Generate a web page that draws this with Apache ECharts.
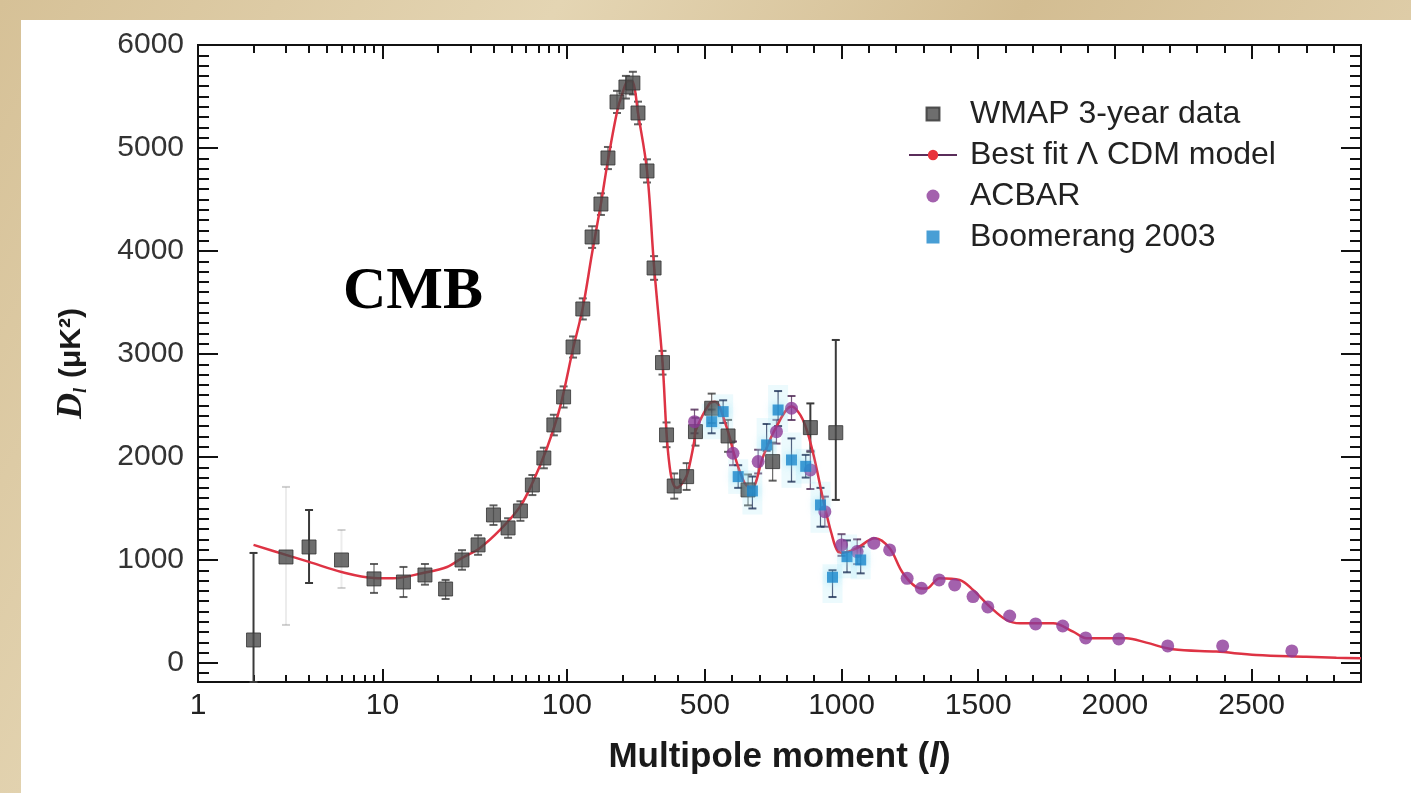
<!doctype html>
<html>
<head>
<meta charset="utf-8">
<title>CMB power spectrum - WMAP 3-year</title>
<style>
    html, body { margin: 0; padding: 0; width: 1411px; height: 793px; overflow: hidden; }
    body { background: linear-gradient(120deg, #d6c197 0%, #e4d5b3 30%, #d3bd92 55%, #e0cfab 80%, #d8c49c 100%); }
    #card { position: absolute; left: 21px; top: 20px; right: 0; bottom: 0; background: #fff; }
    #main { position: absolute; left: 0; top: 0; width: 1411px; height: 793px; }
</style>
</head>
<body>
<div id="card"></div>
<div id="main"></div>
<script src="https://cdn.jsdelivr.net/npm/echarts@6/dist/echarts.min.js"></script>
<script>
// ---- data (multipole l, D_l in uK^2) ----
var wmapL = [2, 3, 4, 6, 9, 13, 17, 22, 27, 33, 40, 48, 56, 65, 75, 85, 96, 108, 122, 137,
    153, 167, 187, 209, 228, 243, 272, 297, 330, 347, 382, 446, 498, 525, 585, 658, 748, 886, 979];
var wmapD = [223, 1029, 1126, 1000, 816, 786, 854, 718, 1000, 1146, 1437, 1311, 1476, 1728, 1990, 2311, 2583, 3068, 3437, 4136,
    4456, 4903, 5447, 5592, 5631, 5340, 4777, 3835, 2916, 2214, 1718, 1809, 2246, 2473, 2204, 1680, 1955, 2285, 2236];
var wmapErrLo = [-185, 369, 776, 728, 680, 640, 760, 621, 905, 1050, 1340, 1215, 1380, 1630, 1890, 2210, 2480, 2965, 3335, 4030,
    4350, 4795, 5340, 5480, 5520, 5230, 4665, 3720, 2800, 2095, 1595, 1680, 2110, 2330, 2050, 1530, 1770, 2050, 1583];
var wmapErrHi = [1068, 1709, 1485, 1291, 961, 932, 961, 806, 1095, 1240, 1530, 1405, 1570, 1825, 2090, 2410, 2685, 3170, 3540, 4240,
    4560, 5010, 5555, 5700, 5740, 5450, 4890, 3950, 3030, 2335, 1840, 1940, 2380, 2615, 2360, 1830, 2140, 2520, 3136];
var faintWmapL = [3, 6];

var modelL = [2, 3, 4, 6, 9, 11.4, 16.6, 22.4, 27, 33.8, 43.4, 55.6, 65.4, 78, 91.6, 108, 122, 137, 153, 167,
    187, 200, 215, 228, 243, 272, 297, 330, 347, 360, 375, 395, 420, 446, 470, 490, 500, 518, 537, 579,
    610, 646, 671, 713, 762, 817, 859, 896, 933, 963, 987, 1006, 1055, 1122, 1176, 1225, 1286, 1310, 1359, 1432,
    1481, 1542, 1603, 1652, 1774, 1847, 1896, 2042, 2115, 2212, 2371, 2517, 2700, 2810, 2900];
var modelD = [1146, 1049, 981, 883, 825, 822, 874, 932, 1019, 1117, 1291, 1515, 1757, 2087, 2476, 3050, 3450, 3980, 4460, 4880,
    5350, 5530, 5650, 5640, 5340, 4780, 3850, 2920, 2230, 1920, 1750, 1700, 1740, 1815, 1980, 2150, 2260, 2521, 2537, 2294,
    2003, 1745, 1696, 2003, 2294, 2489, 2359, 2036, 1583, 1259, 1081, 1071, 1113, 1210, 1113, 871, 725, 722, 822, 806,
    709, 547, 417, 385, 385, 304, 240, 240, 197, 133, 110, 78, 61, 51, 45];

var acbarL = [492, 603, 695, 762, 817, 886, 939, 1000, 1057, 1118, 1176, 1240, 1292, 1357, 1414, 1481, 1535, 1615, 1710, 1809,
    1893, 2014, 2193, 2394, 2647];
var acbarD = [2343, 2036, 1955, 2246, 2473, 1874, 1469, 1146, 1081, 1162, 1097, 822, 725, 806, 757, 644, 544, 456, 379, 359,
    243, 233, 165, 165, 117];
var acbarErrLo = [2230, 1920, 1840, 2130, 2359, 1689, 1323, 1040, 960, null, null, null, null, null, null, null, null, null, null, null,
    null, null, null, null, null];
var acbarErrHi = [2460, 2150, 2070, 2360, 2592, 2060, 1615, 1250, 1200, null, null, null, null, null, null, null, null, null, null, null,
    null, null, null, null, null];

var boomL = [525, 567, 622, 674, 726, 768, 817, 869, 923, 967, 1020, 1070];
var boomD = [2343, 2440, 1809, 1670, 2117, 2456, 1971, 1909, 1534, 832, 1032, 1000];
var boomErrLo = [2230, 2330, 1700, 1500, 2060, 2300, 1760, 1800, 1323, 640, 880, 870];
var boomErrHi = [2460, 2550, 1920, 1810, 2320, 2640, 2180, 2020, 1700, 900, 1190, 1130];

var xLabelValues = [1, 10, 100, 500, 1000, 1500, 2000, 2500];
var yLabelValues = [0, 1000, 2000, 3000, 4000, 5000, 6000];

// ---- x scale: logarithmic up to l = 500, linear beyond ----
var LOG_END = Math.log10(500);
var GAP = 0.049;
var LIN_K = 674.6;
var L_MAX = 2900;
var Y_MIN = -185, Y_MAX = 6000;

function tx(l) {
    return l <= 500 ? Math.log10(l) : LOG_END + GAP + (l - 500) / LIN_K;
}
// axis marks: 500 sits at the start of the linear part
function txAxis(l) {
    return l < 500 ? Math.log10(l) : LOG_END + GAP + (l - 500) / LIN_K;
}
function untx(t) {
    return t < LOG_END + GAP / 2 ? Math.pow(10, t) : 500 + (t - LOG_END - GAP) * LIN_K;
}

var xMinor = [];
[1, 10, 100].forEach(function (dec) {
    for (var m = 2; m <= 9; m++) {
        if (m * dec < 500) xMinor.push(m * dec);
    }
});
for (var v = 600; v <= L_MAX; v += 100) {
    if (v % 500 !== 0) xMinor.push(v);
}
var yMinor = [-100];
for (var w = 100; w < Y_MAX; w += 100) {
    if (w % 1000 !== 0) yMinor.push(w);
}

var axisColor = '#111';
var labelFont = 'Liberation Sans';

function xAxisDef(pos, ticks, len, withLabels) {
    return {
        type: 'value', position: pos, min: 0, max: tx(L_MAX),
        axisLine: { show: true, onZero: false, lineStyle: { color: axisColor, width: 2 } },
        axisTick: { show: true, inside: true, length: len, customValues: ticks.map(txAxis),
            lineStyle: { color: axisColor, width: 2 } },
        axisLabel: withLabels ? {
            show: true, customValues: xLabelValues.map(txAxis), margin: 9,
            fontSize: 30, color: '#222', fontFamily: labelFont,
            formatter: function (val) { return String(Math.round(untx(val))); }
        } : { show: false },
        splitLine: { show: false }
    };
}
function yAxisDef(pos, ticks, len, withLabels) {
    return {
        type: 'value', position: pos, min: Y_MIN, max: Y_MAX,
        axisLine: { show: true, onZero: false, lineStyle: { color: axisColor, width: 2 } },
        axisTick: { show: true, inside: true, length: len, customValues: ticks,
            lineStyle: { color: axisColor, width: 2 } },
        axisLabel: withLabels ? {
            show: true, customValues: yLabelValues, margin: 14,
            fontSize: 30, color: '#333', fontFamily: labelFont,
            formatter: function (val) { return String(val); }
        } : { show: false },
        splitLine: { show: false }
    };
}

var xAxes = [
    xAxisDef('bottom', xLabelValues, 13, true),
    xAxisDef('bottom', xMinor, 7, false),
    xAxisDef('top', xLabelValues, 14, false),
    xAxisDef('top', xMinor, 8, false)
];
xAxes[0].name = '{a|Multipole moment (}{i|l}{a|)}';
xAxes[0].nameLocation = 'middle';
xAxes[0].nameGap = 58;
xAxes[0].nameTextStyle = {
    rich: {
        a: { fontSize: 35, fontWeight: 'bold', fontFamily: labelFont, color: '#1a1a1a' },
        i: { fontSize: 35, fontWeight: 'bold', fontStyle: 'italic', fontFamily: labelFont, color: '#1a1a1a' }
    }
};

var yAxes = [
    yAxisDef('left', yLabelValues, 20, true),
    yAxisDef('left', yMinor, 11, false),
    yAxisDef('right', yLabelValues, 20, false),
    yAxisDef('right', yMinor, 11, false)
];
yAxes[0].name = '{d|D}{s|l}{g| }{u|(μK²)}';
yAxes[0].nameLocation = 'middle';
yAxes[0].nameRotate = 90;
yAxes[0].nameGap = 108;
yAxes[0].nameTextStyle = {
    rich: {
        d: { fontSize: 36, fontWeight: 'bold', fontStyle: 'italic', fontFamily: 'Liberation Serif', color: '#1a1a1a' },
        s: { fontSize: 18, fontWeight: 'bold', fontStyle: 'italic', fontFamily: 'Liberation Serif', color: '#1a1a1a',
            verticalAlign: 'bottom', padding: [12, 0, 0, 0] },
        g: { fontSize: 30, width: 10 },
        u: { fontSize: 30, fontWeight: 'bold', fontFamily: labelFont, color: '#1a1a1a' }
    }
};

function points(ls, ds) {
    return ls.map(function (l, i) { return [tx(l), ds[i]]; });
}
function errData(ls, lo, hi, faintList) {
    var out = [];
    ls.forEach(function (l, i) {
        if (lo[i] == null) return;
        var faint = faintList && faintList.indexOf(l) >= 0 ? 1 : 0;
        out.push([tx(l), lo[i], hi[i], faint]);
    });
    return out;
}

function errorSeries(name, data, color, halo) {
    return {
        type: 'custom', name: name, z: 1, silent: true,
        data: data,
        encode: { x: 0, y: [1, 2] },
        renderItem: function (params, api) {
            var x = api.value(0);
            var lo = api.coord([x, api.value(1)]);
            var hi = api.coord([x, api.value(2)]);
            var faint = api.value(3) === 1;
            var big = Math.abs(lo[1] - hi[1]) > 45;
            var stroke = faint ? 'rgba(120,120,120,0.35)' : color;
            var children = [];
            if (halo) {
                children.push({ type: 'rect',
                    shape: { x: lo[0] - 10, y: hi[1] - 6, width: 20, height: lo[1] - hi[1] + 12 },
                    style: { fill: 'rgba(170,230,247,0.22)' } });
            }
            children.push({ type: 'line',
                shape: { x1: lo[0], y1: lo[1], x2: hi[0], y2: hi[1] },
                style: { stroke: faint ? 'rgba(150,150,150,0.18)' : stroke, lineWidth: big ? 2 : 1.2,
                    opacity: big ? 1 : 0.75 } });
            children.push({ type: 'line',
                shape: { x1: lo[0] - 4, y1: lo[1], x2: lo[0] + 4, y2: lo[1] },
                style: { stroke: stroke, lineWidth: 2, opacity: big ? 1 : 0.8 } });
            children.push({ type: 'line',
                shape: { x1: hi[0] - 4, y1: hi[1], x2: hi[0] + 4, y2: hi[1] },
                style: { stroke: stroke, lineWidth: 2, opacity: big ? 1 : 0.8 } });
            return { type: 'group', children: children };
        }
    };
}

var squareIcon = 'path://M0,0L10,0L10,10L0,10Z';

var chart = echarts.init(document.getElementById('main'));

chart.setOption({
    animation: false,
    backgroundColor: 'transparent',
    grid: { left: 198, right: 50, top: 45, bottom: 111, containLabel: false },
    xAxis: xAxes,
    yAxis: yAxes,
    legend: {
        left: 903, top: 93, orient: 'vertical',
        itemWidth: 48, itemHeight: 13, itemGap: 9,
        selectedMode: false, symbolKeepAspect: true,
        textStyle: { fontSize: 32, color: '#222', fontFamily: labelFont, lineHeight: 32, padding: [0, 0, 0, 8] },
        data: [
            { name: 'WMAP 3-year data', icon: squareIcon },
            { name: 'Best fit Λ CDM model', lineStyle: { color: '#5a2d5a', width: 2 } },
            { name: 'ACBAR', icon: 'circle' },
            { name: 'Boomerang 2003', icon: squareIcon }
        ]
    },
    graphic: [
        { type: 'text', left: 343, top: 262,
            style: { text: 'CMB', font: 'bold 60px "Liberation Serif"', fill: '#000' } }
    ],
    series: [
        errorSeries('wmap-err', errData(wmapL, wmapErrLo, wmapErrHi, faintWmapL), '#3a3a3a', false),
        errorSeries('acbar-err', errData(acbarL, acbarErrLo, acbarErrHi), '#4a2350', false),
        errorSeries('boom-err', errData(boomL, boomErrLo, boomErrHi), '#1d2f55', true),
        {
            type: 'line', name: 'Best fit Λ CDM model', z: 2,
            data: points(modelL, modelD),
            smooth: 0.35,
            symbol: 'circle', symbolSize: 8, showSymbol: false,
            itemStyle: { color: '#e8323c' },
            lineStyle: { color: '#de3344', width: 2.5 }
        },
        {
            type: 'scatter', name: 'WMAP 3-year data', z: 3,
            data: points(wmapL, wmapD),
            symbol: 'rect', symbolSize: 14,
            itemStyle: { color: '#4a4a4a', borderColor: '#333', borderWidth: 1 }
        },
        {
            type: 'scatter', name: 'ACBAR', z: 4,
            data: points(acbarL, acbarD),
            symbol: 'circle', symbolSize: 13,
            itemStyle: { color: '#8c3a98' }
        },
        {
            type: 'scatter', name: 'Boomerang 2003', z: 5,
            data: points(boomL, boomD),
            symbol: 'rect', symbolSize: 11,
            itemStyle: { color: '#1a86ca', shadowColor: 'rgba(140,220,245,0.9)', shadowBlur: 8 }
        }
    ]
});

window.onresize = chart.resize;
</script>
</body>
</html>
